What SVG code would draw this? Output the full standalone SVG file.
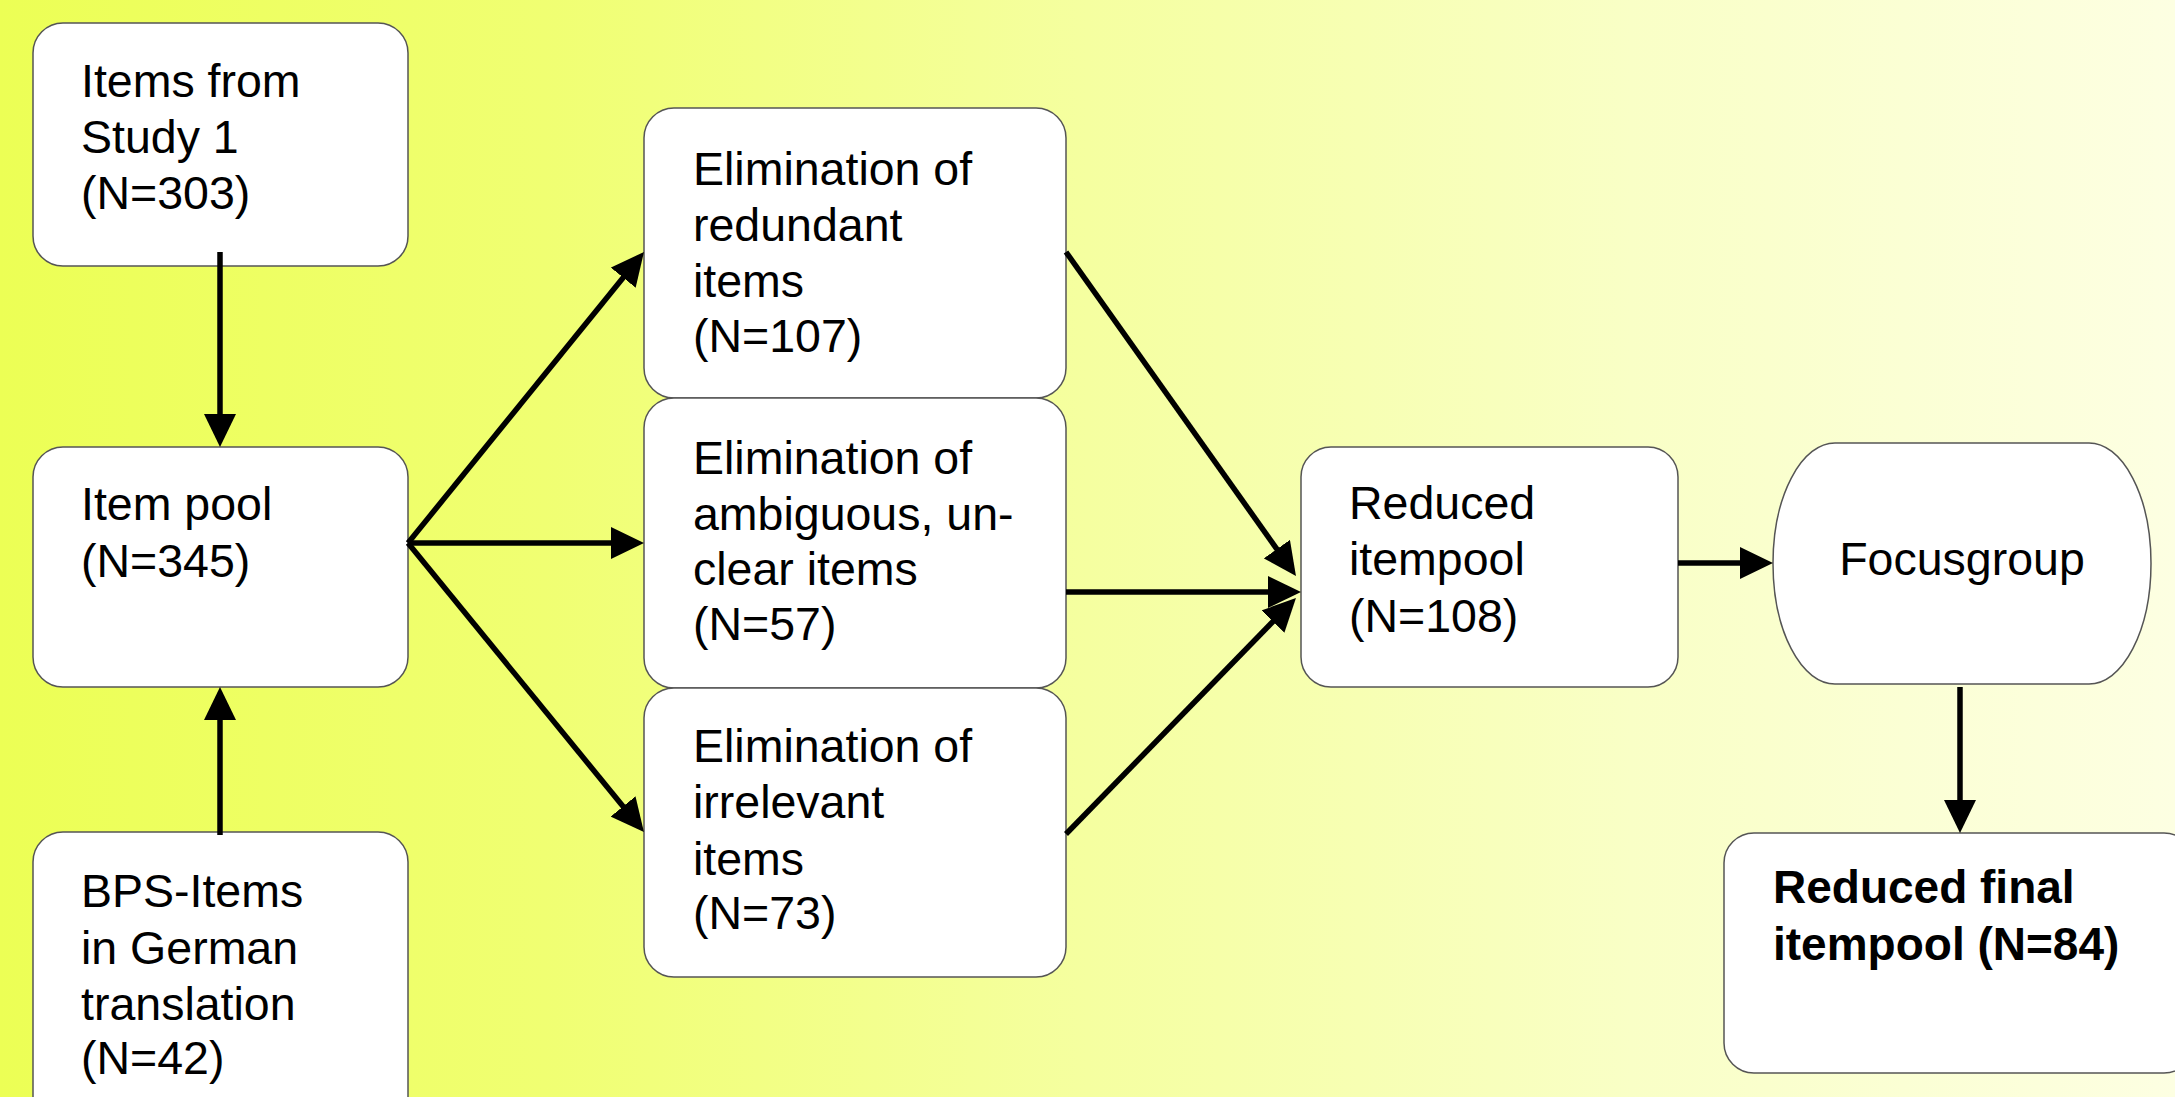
<svg xmlns="http://www.w3.org/2000/svg" width="2175" height="1097" viewBox="0 0 2175 1097">
  <defs>
    <linearGradient id="bg" x1="0" y1="0" x2="1" y2="0">
      <stop offset="0" stop-color="#ecff55"/>
      <stop offset="0.25" stop-color="#f0ff72"/>
      <stop offset="0.5" stop-color="#f5ffa0"/>
      <stop offset="0.75" stop-color="#f9ffc6"/>
      <stop offset="1" stop-color="#fdffe2"/>
    </linearGradient>
    <marker id="ah" viewBox="0 0 33 32" refX="13" refY="16" markerWidth="33" markerHeight="32" markerUnits="userSpaceOnUse" orient="auto">
      <path d="M0,0 L33,16 L0,32 Z" fill="#000"/>
    </marker>
    <style>
      .box { fill: #ffffff; stroke: #555555; stroke-width: 1.5; }
      .t { font-family: "Liberation Sans", Arial, sans-serif; font-size: 46.5px; fill: #000; }
      .tb { font-family: "Liberation Sans", Arial, sans-serif; font-size: 46px; font-weight: bold; fill: #000; }
      .edge { stroke: #000; stroke-width: 5.5; fill: none; marker-end: url(#ah); }
    </style>
  </defs>
  <rect x="0" y="0" width="2175" height="1097" fill="url(#bg)"/>

  <g id="n-study1">
    <rect class="box" x="33" y="23" width="375" height="243" rx="30" ry="30"/>
    <text class="t" x="81" y="97">Items from</text>
    <text class="t" x="81" y="153">Study 1</text>
    <text class="t" x="81" y="209">(N=303)</text>
  </g>

  <g id="n-itempool">
    <rect class="box" x="33" y="447" width="375" height="240" rx="30" ry="30"/>
    <text class="t" x="81" y="520">Item pool</text>
    <text class="t" x="81" y="577">(N=345)</text>
  </g>

  <g id="n-bps">
    <rect class="box" x="33" y="832" width="375" height="300" rx="30" ry="30"/>
    <text class="t" x="81" y="907">BPS-Items</text>
    <text class="t" x="81" y="964">in German</text>
    <text class="t" x="81" y="1020">translation</text>
    <text class="t" x="81" y="1074">(N=42)</text>
  </g>

  <g id="n-redundant">
    <rect class="box" x="644" y="108" width="422" height="290" rx="30" ry="30"/>
    <text class="t" x="693" y="185">Elimination of</text>
    <text class="t" x="693" y="241">redundant</text>
    <text class="t" x="693" y="297">items</text>
    <text class="t" x="693" y="352">(N=107)</text>
  </g>

  <g id="n-ambiguous">
    <rect class="box" x="644" y="398" width="422" height="290" rx="30" ry="30"/>
    <text class="t" x="693" y="474">Elimination of</text>
    <text class="t" x="693" y="530">ambiguous, un-</text>
    <text class="t" x="693" y="585">clear items</text>
    <text class="t" x="693" y="640">(N=57)</text>
  </g>

  <g id="n-irrelevant">
    <rect class="box" x="644" y="688" width="422" height="289" rx="30" ry="30"/>
    <text class="t" x="693" y="762">Elimination of</text>
    <text class="t" x="693" y="818">irrelevant</text>
    <text class="t" x="693" y="875">items</text>
    <text class="t" x="693" y="929">(N=73)</text>
  </g>

  <g id="n-reduced">
    <rect class="box" x="1301" y="447" width="377" height="240" rx="30" ry="30"/>
    <text class="t" x="1349" y="519">Reduced</text>
    <text class="t" x="1349" y="575">itempool</text>
    <text class="t" x="1349" y="632">(N=108)</text>
  </g>

  <g id="n-focus">
    <path class="box" d="M1835,443 H2089 A62,120.5 0 0 1 2089,684 H1835 A62,120.5 0 0 1 1835,443 Z"/>
    <text class="t" x="1962" y="575" text-anchor="middle">Focusgroup</text>
  </g>

  <g id="n-final">
    <rect class="box" x="1724" y="833" width="470" height="240" rx="30" ry="30"/>
    <text class="tb" x="1773" y="903">Reduced final</text>
    <text class="tb" x="1773" y="960">itempool (N=84)</text>
  </g>

  <g id="connectors">
    <line class="edge" x1="220" y1="252" x2="220" y2="427"/>
    <line class="edge" x1="220" y1="835" x2="220" y2="707"/>
    <line class="edge" x1="408" y1="543" x2="631.4" y2="267.5"/>
    <line class="edge" x1="408" y1="543" x2="624" y2="543"/>
    <line class="edge" x1="408" y1="543" x2="631.3" y2="816.5"/>
    <line class="edge" x1="1066" y1="252" x2="1284.4" y2="559.7"/>
    <line class="edge" x1="1066" y1="592" x2="1281" y2="592"/>
    <line class="edge" x1="1066" y1="834" x2="1282" y2="612.3"/>
    <line class="edge" x1="1678" y1="563" x2="1753" y2="563"/>
    <line class="edge" x1="1960" y1="687" x2="1960" y2="813"/>
  </g>
</svg>
